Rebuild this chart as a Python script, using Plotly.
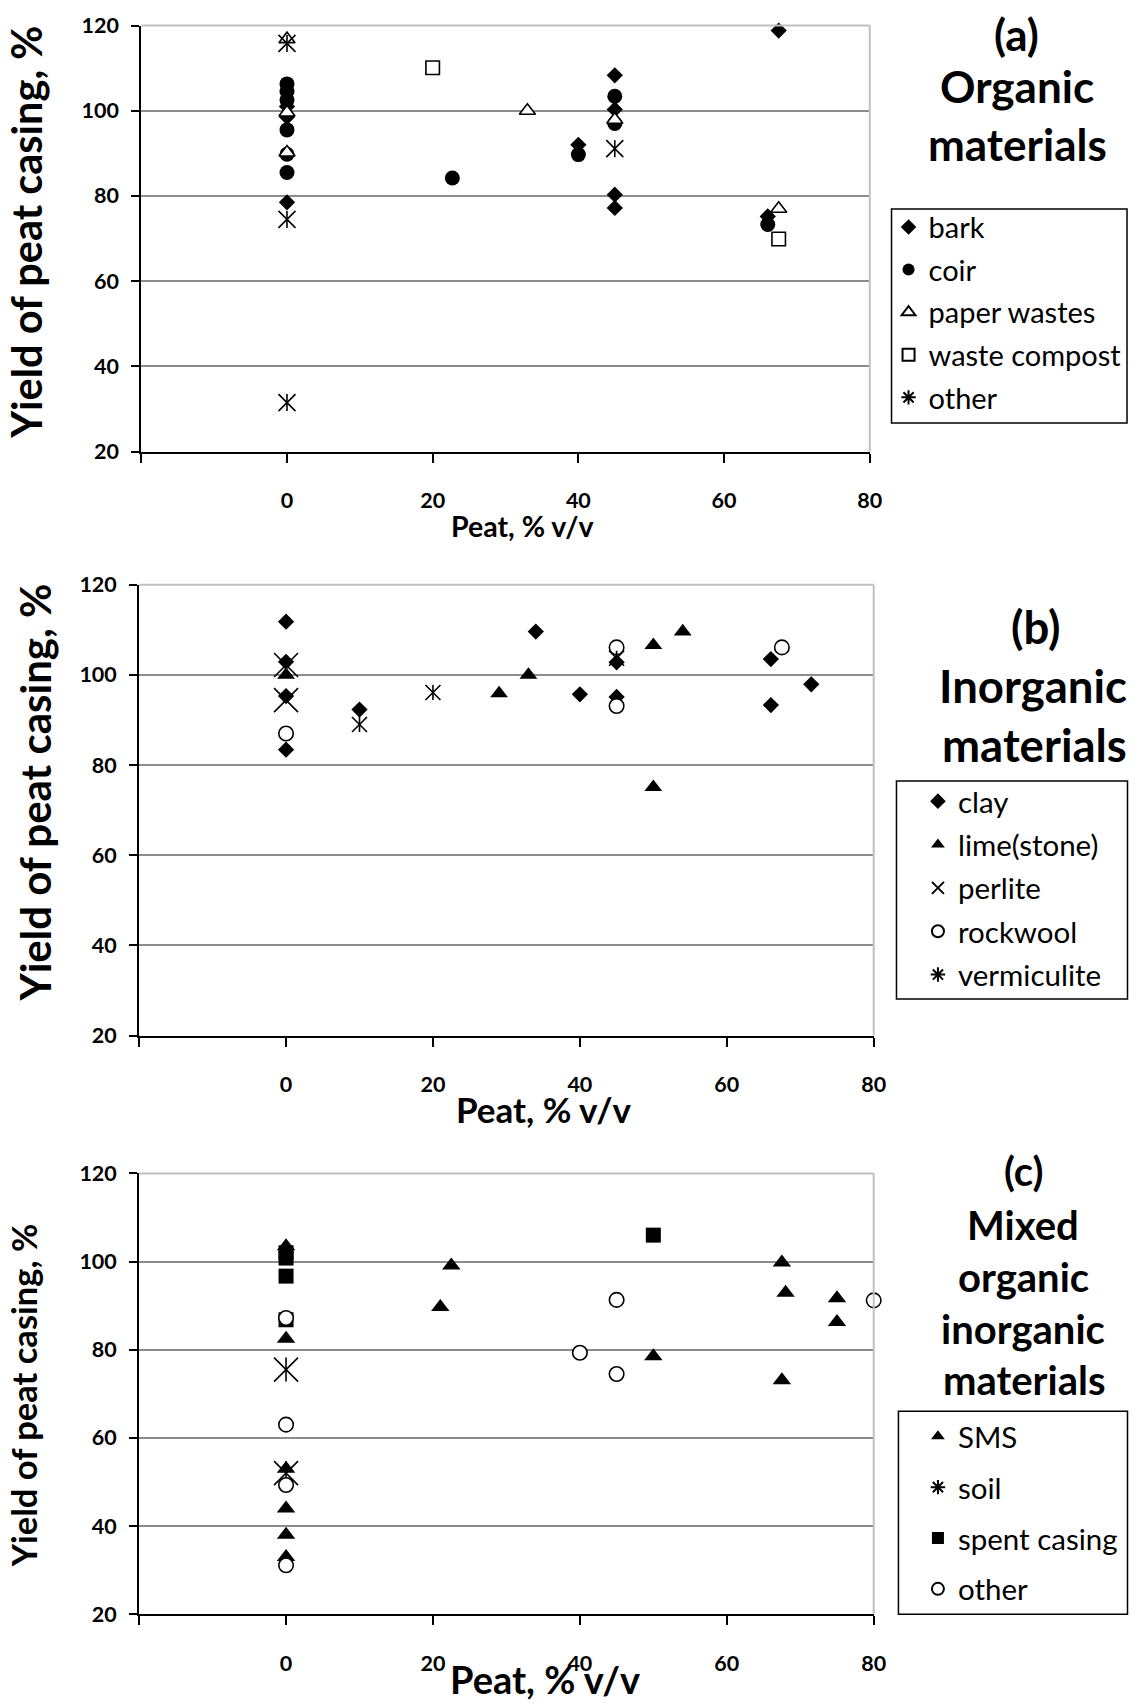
import plotly.graph_objects as go

W, H = 1140, 1704
FONT = "Lato"

# ---------------- data ----------------
# (a) Organic materials
bark_x = [0, 0, 0, 40, 45, 45, 45, 45, 66, 67.5]
bark_y = [101.0, 98.5, 78.5, 92.0, 108.3, 100.3, 80.3, 77.2, 75.2, 118.8]
coir_x = [0, 0, 0, 0, 0, 0, 22.7, 40, 45, 45, 66]
coir_y = [106.3, 104.5, 102.5, 95.5, 89.8, 85.5, 84.2, 89.7, 103.4, 97.0, 73.3]
paper_x = [0, 0, 0, 33, 45, 67.5]
paper_y = [116.8, 99.6, 90.2, 100.0, 97.9, 77.0]
compost_x = [20, 67.5]
compost_y = [110.1, 69.9]
other_a_x = [0, 0, 0, 45]
other_a_y = [115.8, 74.5, 31.5, 91.1]

# (b) Inorganic materials
clay_x = [0, 0, 0, 0, 10, 34, 40, 45, 45, 66, 66, 71.5]
clay_y = [111.8, 102.9, 95.3, 83.4, 92.3, 109.6, 95.7, 102.8, 95.1, 103.5, 93.3, 97.9]
lime_x = [0, 29, 33, 50, 50, 54]
lime_y = [100.0, 95.9, 100.0, 106.6, 75.1, 109.6]
perlite_x = [0, 0]
perlite_y = [102.2, 94.4]
rockwool_x = [0, 45, 45, 67.5]
rockwool_y = [87.0, 106.1, 93.1, 106.1]
verm_x = [10, 20, 45]
verm_y = [89.0, 96.1, 103.7]

# (c) Mixed organic inorganic materials
sms_x = [0, 0, 0, 0, 0, 0, 21, 22.5, 50, 67.5, 68, 67.5, 75, 75]
sms_y = [103.5, 82.5, 53.0, 44.0, 38.0, 33.0, 89.7, 99.1, 78.5, 99.8, 92.9, 73.1, 91.7, 86.3]
soil_x = [0, 0]
soil_y = [75.5, 52.0]
spent_x = [0, 0, 0, 0, 50]
spent_y = [102.0, 100.8, 96.7, 86.8, 106.0]
other_c_x = [0, 0, 0, 0, 40, 45, 45, 80]
other_c_y = [87.2, 63.0, 49.3, 31.1, 79.3, 91.3, 74.5, 91.2]

x_ticks = [-20, 0, 20, 40, 60, 80]
x_tick_text = ["", "0", "20", "40", "60", "80"]
y_ticks = [20, 40, 60, 80, 100, 120]

# ---------------- helpers ----------------
def px(v):
    return v / W

def py(v):
    return 1 - v / H

fig = go.Figure()
LW = 1.6


def filled(x, y, name, sym, size, ax, leg, color="black"):
    fig.add_trace(go.Scatter(
        x=x, y=y, mode="markers", name=name, xaxis=ax[0], yaxis=ax[1],
        legend=leg, legendgroup=name, cliponaxis=False,
        marker=dict(symbol=sym, size=size, color=color,
                    line=dict(color="black", width=0 if color == "black" else LW)),
    ))


def star(x, y, name, size, ax, leg, vertical=True):
    fig.add_trace(go.Scatter(
        x=x, y=y, mode="markers", name=name, xaxis=ax[0], yaxis=ax[1],
        legend=leg, legendgroup=name, showlegend=not vertical, cliponaxis=False,
        marker=dict(symbol="x-thin", size=size, color="black",
                    line=dict(color="black", width=LW)),
    ))
    if vertical:
        fig.add_trace(go.Scatter(
            x=x, y=y, mode="markers", name=name, xaxis=ax[0], yaxis=ax[1],
            legend=leg, legendgroup=name, showlegend=False, cliponaxis=False,
            marker=dict(symbol="line-ns", size=size / 1.4, color="black",
                        line=dict(color="black", width=LW)),
        ))
        fig.add_trace(go.Scatter(
            x=[None], y=[None], mode="markers", name=name, xaxis=ax[0], yaxis=ax[1],
            legend=leg, legendgroup=name, showlegend=True,
            marker=dict(symbol="asterisk", size=size, color="black",
                        line=dict(color="black", width=LW)),
        ))


A = ("x", "y")
B = ("x2", "y2")
C = ("x3", "y3")

# panel (a)
filled(bark_x, bark_y, "bark", "diamond", 12.5, A, "legend")
filled(coir_x, coir_y, "coir", "circle", 15, A, "legend")
filled(paper_x, paper_y, "paper wastes", "triangle-up", 14, A, "legend", "white")
filled(compost_x, compost_y, "waste compost", "square", 13.5, A, "legend", "white")
star(other_a_x, other_a_y, "other", 17, A, "legend")

# panel (b)
filled(clay_x, clay_y, "clay", "diamond", 12.5, B, "legend2")
filled(lime_x, lime_y, "lime(stone)", "triangle-up", 15.5, B, "legend2")
star(perlite_x, perlite_y, "perlite", 24, B, "legend2", vertical=False)
filled(rockwool_x, rockwool_y, "rockwool", "circle", 14.5, B, "legend2", "white")
star(verm_x, verm_y, "vermiculite", 15, B, "legend2")

# panel (c)
filled(sms_x, sms_y, "SMS", "triangle-up", 16, C, "legend3")
star(soil_x, soil_y, "soil", 24, C, "legend3")
filled(spent_x, spent_y, "spent casing", "square", 15, C, "legend3")
filled(other_c_x, other_c_y, "other ", "circle", 14.5, C, "legend3", "white")

# ---------------- axes ----------------
panels = [
    ((142.8, 879), (12.7, 445.4)),
    ((140.6, 883), (580.6, 1038.4)),
    ((140.6, 883), (1178.4, 1626)),
]

tickfont = dict(family=FONT, size=21.5, color="black", weight="bold")
layout_axes = {}
for i, ((x0, x1), (y0, y1)) in enumerate(panels):
    sfx = "" if i == 0 else str(i + 1)
    layout_axes["xaxis" + sfx] = dict(
        domain=[px(x0), px(x1)], range=[-20, 80], anchor="y" + sfx,
        tickvals=x_ticks, ticktext=x_tick_text, ticks="outside", ticklen=9,
        tickwidth=1.5, tickcolor="black", showline=True, linecolor="black",
        linewidth=2, showgrid=False, zeroline=False, tickfont=tickfont,
        ticklabelstandoff=20,
    )
    layout_axes["yaxis" + sfx] = dict(
        domain=[py(y1), py(y0)], range=[20, 120], anchor="x" + sfx,
        tickvals=y_ticks, ticks="outside", ticklen=8, tickwidth=1.5,
        tickcolor="black", showline=True, linecolor="black", linewidth=2,
        showgrid=True, gridcolor="#8c8c8c", gridwidth=1.5, zeroline=False,
        tickfont=tickfont, ticklabelstandoff=8,
    )

shapes = []
for i in range(3):
    sfx = "" if i == 0 else str(i + 1)
    xr, yr = "x" + sfx + " domain", "y" + sfx + " domain"
    shapes.append(dict(type="line", xref=xr, yref=yr, x0=0, x1=1, y0=1, y1=1,
                       line=dict(color="#c0c0c0", width=2), layer="above"))
    shapes.append(dict(type="line", xref=xr, yref=yr, x0=1, x1=1, y0=0, y1=1,
                       line=dict(color="#c0c0c0", width=2), layer="above"))

# legend boxes
for (bx0, by0, bx1, by1) in [(901, 199, 1139, 416.3), (906, 780, 1139.5, 1001.3),
                             (908, 1419.8, 1139.5, 1626)]:
    shapes.append(dict(type="rect", xref="paper", yref="paper",
                       x0=px(bx0), x1=px(bx1), y0=py(by1), y1=py(by0),
                       line=dict(color="black", width=1.5), fillcolor="rgba(0,0,0,0)"))

annotations = []


def text(t, x, y, size, angle=0, bold=True, yanchor="middle"):
    annotations.append(dict(
        text=t, x=px(x), y=py(y), xref="paper", yref="paper", showarrow=False,
        xanchor="center", yanchor=yanchor, textangle=angle,
        font=dict(family=FONT, size=size, color="black",
                  weight="bold" if bold else "normal"),
    ))


# y titles
text("Yield of peat casing, %", 26, 222.5, 41.5, -90)
text("Yield of peat casing, %", 35, 792, 42, -90)
text("Yield of peat casing, %", 24, 1404, 34.5, -90)
# x titles
text("Peat, % v/v", 527.5, 521.4, 28.5)
text("Peat, % v/v", 549.7, 1113.2, 35)
text("Peat, % v/v", 550.4, 1692, 38)
# panel labels
for t, x, y, s in [("(a)", 1027.6, 21, 44), ("Organic", 1027.6, 74, 44), ("materials", 1028.7, 132.6, 44),
                   ("(b)", 1047, 623.4, 45.5), ("Inorganic", 1044, 682.5, 45.5), ("materials", 1045, 742.6, 45.5),
                   ("(c)", 1034, 1176.2, 40), ("Mixed", 1034, 1230.4, 40), ("organic", 1034, 1283.4, 40),
                   ("inorganic", 1034, 1336.5, 40), ("materials", 1035, 1388.6, 40)]:
    text(t, x, y, s)

common_leg = dict(xanchor="left", yanchor="top", bgcolor="rgba(0,0,0,0)", borderwidth=0,
                  itemsizing="constant", traceorder="grouped")

fig.update_layout(
    width=W, height=H, margin=dict(l=0, r=0, t=0, b=0),
    paper_bgcolor="white", plot_bgcolor="white",
    shapes=shapes, annotations=annotations,
    legend=dict(x=px(898), y=py(191.5), tracegroupgap=1.9,
                font=dict(family=FONT, size=29, color="black"), **common_leg),
    legend2=dict(x=px(927.7), y=py(774.3), tracegroupgap=2,
                 font=dict(family=FONT, size=29.5, color="black"), **common_leg),
    legend3=dict(x=px(927.7), y=py(1419.3), tracegroupgap=9.5,
                 font=dict(family=FONT, size=29.5, color="black"), **common_leg),
    **layout_axes,
)

fig.write_html("out.html")

# make the page exactly the figure's size (no body margin / scrollbars)
with open("out.html", "r", encoding="utf-8") as f:
    html = f.read()
html = html.replace("<head>", "<head><style>html,body{margin:0;padding:0;overflow:hidden;}</style>", 1)
with open("out.html", "w", encoding="utf-8") as f:
    f.write(html)
